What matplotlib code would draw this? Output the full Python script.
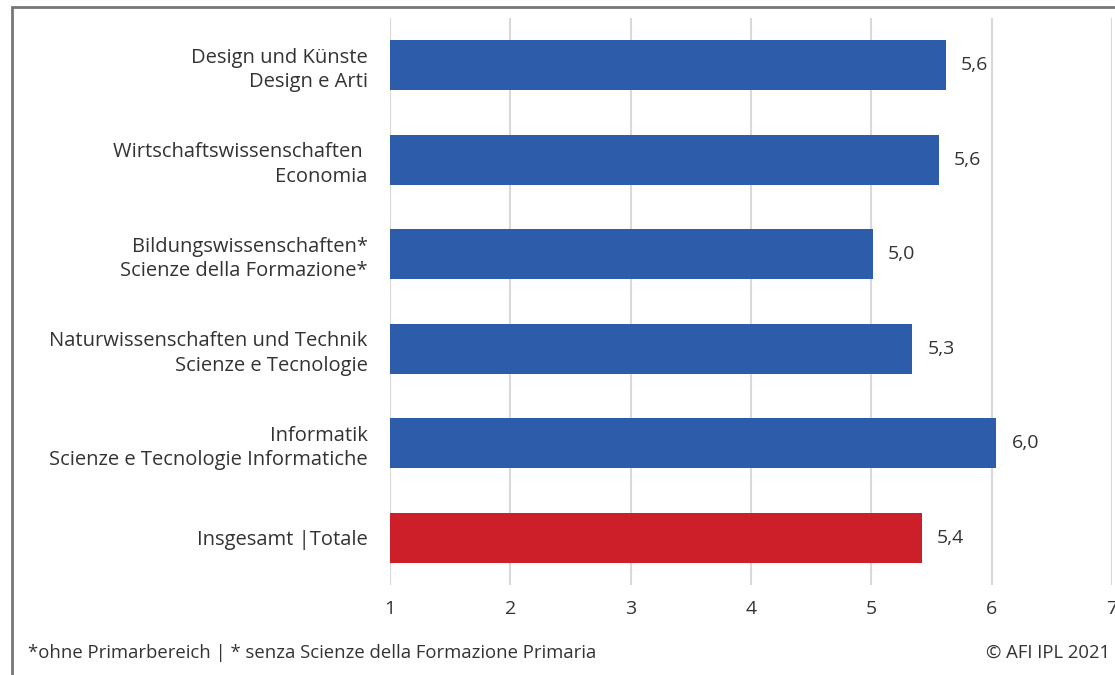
import matplotlib.pyplot as plt
from matplotlib.patches import Rectangle

plt.rcParams["font.family"] = ["Open Sans", "DejaVu Sans"]

# ---------------------------------------------------------------------
# Data
# ---------------------------------------------------------------------

CATEGORIES = [
    "Design und Künste\nDesign e Arti",
    "Wirtschaftswissenschaften \nEconomia",
    "Bildungswissenschaften*\nScienze della Formazione*",
    "Naturwissenschaften und Technik\nScienze e Tecnologie",
    "Informatik\nScienze e Tecnologie Informatiche",
    "Insgesamt |Totale",
]
VALUES = [5.62, 5.56, 5.01, 5.34, 6.04, 5.42]
VALUE_LABELS = ["5,6", "5,6", "5,0", "5,3", "6,0", "5,4"]

BLUE = "#2c5caa"
RED = "#cc1f2a"
TEXT = "#333333"

fig = plt.figure(figsize=(11.15, 6.75), dpi=100)
ax = fig.add_axes([0.3498, 0.1333, 0.6475, 0.84])

ypos = list(range(len(CATEGORIES)))
colors = [BLUE] * (len(CATEGORIES) - 1) + [RED]
ax.barh(ypos, [v - 1 for v in VALUES], left=1, height=0.53,
        color=colors, zorder=3)

for y, v, lab in zip(ypos, VALUES, VALUE_LABELS):
    ax.annotate(lab, (v, y), xytext=(11, 0), textcoords="offset points",
                va="center", ha="left", fontsize=14, color=TEXT)

ax.set_xlim(1, 7)
ax.set_ylim(len(CATEGORIES) - 0.5, -0.5)
ax.set_xticks(range(1, 8))
ax.set_xticklabels([str(i) for i in range(1, 8)], fontsize=14, color=TEXT)
ax.set_yticks(ypos)
ax.set_yticklabels(CATEGORIES, fontsize=14.5, color=TEXT, linespacing=1.3)
ax.tick_params(axis="both", length=0)
ax.tick_params(axis="y", pad=16)
ax.tick_params(axis="x", pad=11)
ax.grid(axis="x", color="#d9d9d9", linewidth=1.5, zorder=0)
for s in ax.spines.values():
    s.set_visible(False)

fig.text(28 / 1115, 1 - 653 / 675, "*ohne Primarbereich | * senza Scienze della Formazione Primaria",
         fontsize=13.3, color=TEXT, va="center", ha="left")
fig.text(1110 / 1115, 1 - 653 / 675, "© AFI IPL 2021",
         fontsize=13.3, color=TEXT, va="center", ha="right")

# outer frame (cropped at right and bottom)
fig.patches.append(Rectangle((12 / 1115, -0.1), 1.2, 1 - 7 / 675 + 0.1,
                             transform=fig.transFigure, fill=False,
                             edgecolor="#777777", linewidth=2))

fig.savefig("out.png", dpi=100)
